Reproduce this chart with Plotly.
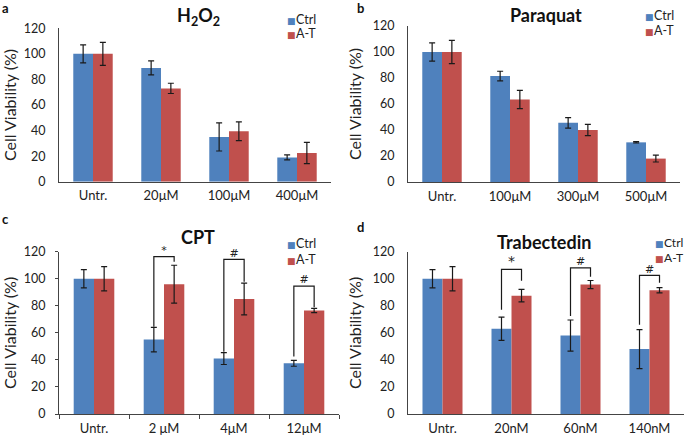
import plotly.graph_objects as go

W, H = 685, 437
FONT = "Lato"

# ---------------- data ----------------
a_cats = ["Untr.", "20μM", "100μM", "400μM"]
a_ctrl = [100, 89, 35, 19]
a_ctrl_err = [7, 5.5, 11, 2]
a_at = [100, 73, 39.5, 22.5]
a_at_err = [9, 4, 7.3, 8.3]

b_cats = ["Untr.", "100μM", "300μM", "500μM"]
b_ctrl = [100, 81.5, 45.5, 30.5]
b_ctrl_err = [7, 3.7, 4, 0.5]
b_at = [100, 63.5, 40, 18]
b_at_err = [9, 7, 4.3, 2.6]

c_cats = ["Untr.", "2 μM", "4μM", "12μM"]
c_ctrl = [100, 55, 41, 37.5]
c_ctrl_err = [6.7, 9, 4.4, 2.2]
c_at = [100, 96, 85, 76.5]
c_at_err = [9, 14, 11.7, 1.6]
c_sig_idx = [1, 2, 3]
c_sig_left = [64.5, 46, 42.5]
c_sig_top = [116.3, 114.3, 94.6]
c_sig_right = [112.6, 97.8, 79]
c_sig_lab = ["*", "#", "#"]

d_cats = ["Untr.", "20nM", "60nM", "140nM"]
d_ctrl = [100, 63, 58, 48]
d_ctrl_err = [6.8, 8.6, 11.5, 14.4]
d_at = [100, 87.5, 95.7, 91.5]
d_at_err = [9, 4.6, 3, 2]
d_sig_idx = [1, 2, 3]
d_sig_left = [77, 72.5, 66]
d_sig_top = [107, 108, 102.5]
d_sig_right = [98.5, 101.5, 97]
d_sig_lab = ["*", "#", "#"]

y_ticks = [0, 20, 40, 60, 80, 100, 120]
series_names = ["Ctrl", "A-T"]
titles = ["H<sub>2</sub>O<sub>2</sub>", "Paraquat", "CPT", "Trabectedin"]
panel_letters = ["a", "b", "c", "d"]

BLUE = "#4F81BD"
RED = "#C0504D"
BARGAP = 0.42
BW = (1 - BARGAP) / 2

# panel geometry in pixels: (x0, x1, y_of_0, y_of_120)
geom = [
    (59, 331, 181.7, 28.3),
    (408, 680, 182, 26),
    (59, 339, 414, 251.7),
    (408, 684, 414, 251.7),
]
title_pos = [(198, 17), (546, 15), (198, 237), (544, 242)]
letter_pos = [(5, 8), (361, 8), (5, 219), (361, 227)]
# legend: (left x of swatch, y of first row, row spacing, font size)
legend_pos = [(286, 20, 14, 12.5), (644, 15, 16, 12.5), (286, 243, 16, 12.5), (654, 242, 15, 12)]

panels = [
    (a_cats, a_ctrl, a_ctrl_err, a_at, a_at_err, None),
    (b_cats, b_ctrl, b_ctrl_err, b_at, b_at_err, None),
    (c_cats, c_ctrl, c_ctrl_err, c_at, c_at_err,
     (c_sig_idx, c_sig_left, c_sig_top, c_sig_right, c_sig_lab)),
    (d_cats, d_ctrl, d_ctrl_err, d_at, d_at_err,
     (d_sig_idx, d_sig_left, d_sig_top, d_sig_right, d_sig_lab)),
]

fig = go.Figure()
layout = dict(
    width=W, height=H,
    margin=dict(l=0, r=0, t=0, b=0, autoexpand=False),
    paper_bgcolor="white", plot_bgcolor="white",
    barmode="group", bargap=BARGAP, bargroupgap=0,
    font=dict(family=FONT, color="#222", size=12),
    showlegend=False,
)
annotations = []

for k, (cats, ctrl, ctrl_err, at, at_err, sig) in enumerate(panels):
    n = k + 1
    xa = "x" if n == 1 else f"x{n}"
    ya = "y" if n == 1 else f"y{n}"
    xs = list(range(len(cats)))
    for name, vals, errs, col in [(series_names[0], ctrl, ctrl_err, BLUE),
                                  (series_names[1], at, at_err, RED)]:
        fig.add_trace(go.Bar(
            x=xs, y=vals, name=name, marker=dict(color=col, line=dict(width=0)),
            error_y=dict(type="data", array=errs, color="#1a1a1a", thickness=1.2, width=3),
            xaxis=xa, yaxis=ya, offsetgroup=name,
        ))
    if sig is not None:
        idx, left, top, right, lab = sig
        for i, yl, yt, yr, s in zip(idx, left, top, right, lab):
            xl = i - BW / 2
            xr = i + BW / 2
            fig.add_trace(go.Scatter(
                x=[xl, xl, xr, xr], y=[yl, yt, yt, yr], mode="lines",
                line=dict(color="#1a1a1a", width=1.2), xaxis=xa, yaxis=ya,
                hoverinfo="skip", cliponaxis=False,
            ))
            fig.add_trace(go.Scatter(
                x=[i], y=[yt], mode="text", text=[s], textposition="top center",
                textfont=dict(size=14 if (s == "*" and k == 3) else 11,
                              family="DejaVu Sans", color="#222"),
                xaxis=xa, yaxis=ya, hoverinfo="skip", cliponaxis=False,
            ))

    x0, x1, y0p, y1p = geom[k]
    is_c = (k == 2)
    xkey = "xaxis" if n == 1 else f"xaxis{n}"
    ykey = "yaxis" if n == 1 else f"yaxis{n}"
    layout[xkey] = dict(
        domain=[x0 / W, x1 / W], anchor=ya, range=[-0.5, len(cats) - 0.5],
        tickvals=xs, ticktext=cats, ticks="", showgrid=False, zeroline=False,
        showline=True, linecolor="#444", linewidth=1,
        tickfont=dict(size=13, family=FONT, color="#222"), ticklabelstandoff=2,
        minor=dict(tickvals=[i - 0.5 for i in range(len(cats) + 1)], ticks="outside",
                   ticklen=4, tickcolor="#444", tickwidth=1) if is_c else None,
    )
    layout[ykey] = dict(
        domain=[1 - y0p / H, 1 - y1p / H], anchor=xa, range=[0, 120],
        tickvals=y_ticks, ticks="outside" if is_c else "", ticklen=3, tickcolor="#444",
        showgrid=False, zeroline=False, showline=True, linecolor="#444", linewidth=1,
        tickfont=dict(size=12.5, family=FONT, color="#222"),
        ticklabelstandoff=7 if is_c else 10,
        title=dict(text="Cell Viability (%)", font=dict(size=16, family=FONT, color="#222"),
                   standoff=7),
    )
    # legend entries (swatch glyph + label) per panel
    lx, ly, dy, fs = legend_pos[k]
    for j, (nm, col) in enumerate(zip(series_names, [BLUE, RED])):
        annotations.append(dict(
            x=lx / W, y=1 - (ly + j * dy) / H, xref="paper", yref="paper",
            showarrow=False, xanchor="left", yanchor="middle", borderpad=0,
            text=(f"<span style='font-family:DejaVu Sans;font-size:9px;color:{col}'>■</span>"
                  f"<span style='font-size:2px'> </span>{nm}"),
            font=dict(size=fs, family=FONT, color="#222"),
        ))
    tx, ty = title_pos[k]
    annotations.append(dict(
        x=tx / W, y=1 - ty / H, xref="paper", yref="paper", showarrow=False,
        text=f"<b>{titles[k]}</b>", font=dict(size=18, family=FONT, color="#111"),
        xanchor="center", yanchor="middle",
    ))
    px_, py_ = letter_pos[k]
    annotations.append(dict(
        x=px_ / W, y=1 - py_ / H, xref="paper", yref="paper", showarrow=False,
        text=f"<b>{panel_letters[k]}</b>", font=dict(size=13, family=FONT, color="#111"),
        xanchor="center", yanchor="middle",
    ))

layout["annotations"] = annotations
fig.update_layout(**layout)
fig.write_html("out.html", config={"displayModeBar": False},
               post_script="document.body.style.margin='0';")
